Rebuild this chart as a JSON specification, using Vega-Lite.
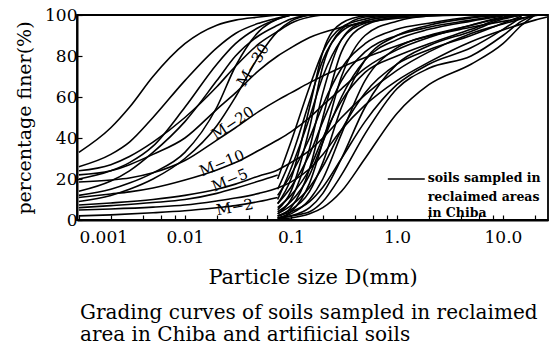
{
"$schema": "https://vega.github.io/schema/vega-lite/v6.json",
"width": 471, "height": 205,
"autosize": "none",
"padding": {"left": 77, "top": 15, "right": 3, "bottom": 133},
"background": "white",
"config": {"view": {"stroke": "black", "strokeWidth": 1.8}, "font": "DejaVu Serif"},
"title": {"text": ["Grading curves of soils sampled in reclaimed", "area in Chiba and artifiicial soils"], "orient": "bottom", "anchor": "start", "frame": "group", "align": "left", "font": "DejaVu Serif", "fontSize": 20, "fontWeight": "normal", "lineHeight": 22, "offset": 16, "dx": 3, "color": "black"},
"layer": [
{"data": {"values": [
{"s":"M30","d":0.001,"p":22},{"s":"M30","d":0.002,"p":24},{"s":"M30","d":0.003,"p":27},{"s":"M30","d":0.005,"p":32},{"s":"M30","d":0.01,"p":40},{"s":"M30","d":0.02,"p":54},{"s":"M30","d":0.03,"p":62},{"s":"M30","d":0.05,"p":73},{"s":"M30","d":0.075,"p":80},{"s":"M30","d":0.1,"p":84},{"s":"M30","d":0.15,"p":89},{"s":"M30","d":0.3,"p":94},{"s":"M30","d":0.7,"p":97.5},{"s":"M30","d":2,"p":99.5},{"s":"M30","d":3,"p":100},
{"s":"M20","d":0.001,"p":18.5},{"s":"M20","d":0.002,"p":19.5},{"s":"M20","d":0.003,"p":20.5},{"s":"M20","d":0.005,"p":23},{"s":"M20","d":0.01,"p":29},{"s":"M20","d":0.02,"p":39},{"s":"M20","d":0.03,"p":45},{"s":"M20","d":0.05,"p":53},{"s":"M20","d":0.075,"p":58.5},{"s":"M20","d":0.1,"p":62},{"s":"M20","d":0.15,"p":67},{"s":"M20","d":0.3,"p":74.5},{"s":"M20","d":0.7,"p":82},{"s":"M20","d":1.5,"p":88},{"s":"M20","d":5,"p":94},{"s":"M20","d":15,"p":98.5},{"s":"M20","d":22,"p":100},
{"s":"M10","d":0.001,"p":11},{"s":"M10","d":0.002,"p":12.7},{"s":"M10","d":0.003,"p":13.7},{"s":"M10","d":0.005,"p":15.6},{"s":"M10","d":0.01,"p":19.5},{"s":"M10","d":0.02,"p":24.4},{"s":"M10","d":0.03,"p":28},{"s":"M10","d":0.05,"p":34},{"s":"M10","d":0.075,"p":39},{"s":"M10","d":0.1,"p":43},{"s":"M10","d":0.15,"p":50},{"s":"M10","d":0.2,"p":56},{"s":"M10","d":0.3,"p":64},{"s":"M10","d":0.5,"p":74},{"s":"M10","d":1,"p":83},{"s":"M10","d":2,"p":89},{"s":"M10","d":5,"p":95},{"s":"M10","d":10,"p":98.5},{"s":"M10","d":15,"p":100},
{"s":"M5","d":0.001,"p":7.3},{"s":"M5","d":0.002,"p":8.3},{"s":"M5","d":0.005,"p":10},{"s":"M5","d":0.01,"p":12},{"s":"M5","d":0.02,"p":15},{"s":"M5","d":0.03,"p":17.5},{"s":"M5","d":0.05,"p":21.5},{"s":"M5","d":0.075,"p":24.4},{"s":"M5","d":0.1,"p":28},{"s":"M5","d":0.15,"p":34},{"s":"M5","d":0.2,"p":40},{"s":"M5","d":0.3,"p":50},{"s":"M5","d":0.5,"p":61},{"s":"M5","d":1,"p":73},{"s":"M5","d":2,"p":82},{"s":"M5","d":5,"p":91},{"s":"M5","d":10,"p":95.6},{"s":"M5","d":20,"p":100},
{"s":"M2","d":0.001,"p":4.9},{"s":"M2","d":0.002,"p":5.4},{"s":"M2","d":0.005,"p":6.3},{"s":"M2","d":0.01,"p":7.3},{"s":"M2","d":0.02,"p":9.3},{"s":"M2","d":0.03,"p":10.7},{"s":"M2","d":0.05,"p":13},{"s":"M2","d":0.075,"p":15.6},{"s":"M2","d":0.1,"p":18.5},{"s":"M2","d":0.15,"p":25},{"s":"M2","d":0.2,"p":32},{"s":"M2","d":0.3,"p":44},{"s":"M2","d":0.5,"p":56},{"s":"M2","d":1,"p":68},{"s":"M2","d":2,"p":77},{"s":"M2","d":5,"p":87},{"s":"M2","d":10,"p":92.7},{"s":"M2","d":20,"p":97.5},{"s":"M2","d":26,"p":99},
{"s":"a","d":0.001,"p":33},{"s":"a","d":0.002,"p":45},{"s":"a","d":0.003,"p":55},{"s":"a","d":0.005,"p":70},{"s":"a","d":0.01,"p":86},{"s":"a","d":0.02,"p":95},{"s":"a","d":0.03,"p":97.5},{"s":"a","d":0.05,"p":99},{"s":"a","d":0.075,"p":100},
{"s":"b","d":0.001,"p":26},{"s":"b","d":0.002,"p":32},{"s":"b","d":0.003,"p":38},{"s":"b","d":0.005,"p":50},{"s":"b","d":0.01,"p":68},{"s":"b","d":0.02,"p":84},{"s":"b","d":0.03,"p":91},{"s":"b","d":0.05,"p":96},{"s":"b","d":0.075,"p":98.5},{"s":"b","d":0.1,"p":100},
{"s":"c","d":0.001,"p":24},{"s":"c","d":0.002,"p":27},{"s":"c","d":0.003,"p":31},{"s":"c","d":0.005,"p":38},{"s":"c","d":0.01,"p":50},{"s":"c","d":0.02,"p":65},{"s":"c","d":0.03,"p":75},{"s":"c","d":0.05,"p":86},{"s":"c","d":0.075,"p":92},{"s":"c","d":0.1,"p":96},{"s":"c","d":0.15,"p":99},{"s":"c","d":0.2,"p":100},
{"s":"i","d":0.001,"p":12},{"s":"i","d":0.002,"p":15},{"s":"i","d":0.003,"p":18},{"s":"i","d":0.005,"p":23},{"s":"i","d":0.01,"p":33},{"s":"i","d":0.02,"p":55},{"s":"i","d":0.03,"p":75},{"s":"i","d":0.05,"p":92},{"s":"i","d":0.075,"p":98},{"s":"i","d":0.1,"p":100},
{"s":"j","d":0.001,"p":9},{"s":"j","d":0.002,"p":12},{"s":"j","d":0.003,"p":15},{"s":"j","d":0.005,"p":20},{"s":"j","d":0.01,"p":30},{"s":"j","d":0.02,"p":46},{"s":"j","d":0.03,"p":60},{"s":"j","d":0.05,"p":80},{"s":"j","d":0.075,"p":92},{"s":"j","d":0.1,"p":97},{"s":"j","d":0.15,"p":100},
{"s":"k","d":0.001,"p":20},{"s":"k","d":0.002,"p":24},{"s":"k","d":0.003,"p":28},{"s":"k","d":0.005,"p":36},{"s":"k","d":0.01,"p":55},{"s":"k","d":0.02,"p":76},{"s":"k","d":0.03,"p":86},{"s":"k","d":0.05,"p":94},{"s":"k","d":0.075,"p":98},{"s":"k","d":0.1,"p":100},
{"s":"l","d":0.001,"p":14},{"s":"l","d":0.002,"p":19},{"s":"l","d":0.003,"p":24},{"s":"l","d":0.005,"p":33},{"s":"l","d":0.01,"p":48},{"s":"l","d":0.02,"p":68},{"s":"l","d":0.03,"p":80},{"s":"l","d":0.05,"p":90},{"s":"l","d":0.075,"p":95},{"s":"l","d":0.1,"p":98},{"s":"l","d":0.15,"p":100},
{"s":"n","d":0.001,"p":2},{"s":"n","d":0.002,"p":2.5},{"s":"n","d":0.005,"p":3.5},{"s":"n","d":0.01,"p":4.5},{"s":"n","d":0.02,"p":6},{"s":"n","d":0.03,"p":7},{"s":"n","d":0.05,"p":9},{"s":"n","d":0.075,"p":11},
{"s":"o","d":0.001,"p":6},{"s":"o","d":0.002,"p":7},{"s":"o","d":0.005,"p":8.5},{"s":"o","d":0.01,"p":10},{"s":"o","d":0.02,"p":13},{"s":"o","d":0.03,"p":15.5},{"s":"o","d":0.05,"p":19},{"s":"o","d":0.075,"p":22},
{"s":"R1","d":0.075,"p":8},{"s":"R1","d":0.1,"p":20},{"s":"R1","d":0.15,"p":55},{"s":"R1","d":0.2,"p":82},{"s":"R1","d":0.3,"p":96},{"s":"R1","d":0.5,"p":99.5},{"s":"R1","d":1,"p":100},
{"s":"R2","d":0.075,"p":5},{"s":"R2","d":0.1,"p":14},{"s":"R2","d":0.15,"p":45},{"s":"R2","d":0.2,"p":75},{"s":"R2","d":0.3,"p":93},{"s":"R2","d":0.5,"p":99},{"s":"R2","d":1,"p":100},
{"s":"R3","d":0.075,"p":3},{"s":"R3","d":0.1,"p":10},{"s":"R3","d":0.15,"p":35},{"s":"R3","d":0.2,"p":62},{"s":"R3","d":0.3,"p":88},{"s":"R3","d":0.5,"p":97},{"s":"R3","d":1,"p":99.5},{"s":"R3","d":2,"p":100},
{"s":"R4","d":0.075,"p":2},{"s":"R4","d":0.1,"p":6},{"s":"R4","d":0.15,"p":25},{"s":"R4","d":0.2,"p":50},{"s":"R4","d":0.3,"p":82},{"s":"R4","d":0.5,"p":95},{"s":"R4","d":1,"p":99},{"s":"R4","d":2,"p":100},
{"s":"R5","d":0.075,"p":10},{"s":"R5","d":0.1,"p":25},{"s":"R5","d":0.15,"p":50},{"s":"R5","d":0.2,"p":70},{"s":"R5","d":0.3,"p":88},{"s":"R5","d":0.5,"p":96},{"s":"R5","d":1,"p":99},{"s":"R5","d":2,"p":100},
{"s":"R6","d":0.075,"p":15},{"s":"R6","d":0.1,"p":30},{"s":"R6","d":0.15,"p":58},{"s":"R6","d":0.2,"p":78},{"s":"R6","d":0.3,"p":92},{"s":"R6","d":0.5,"p":97},{"s":"R6","d":1,"p":99.5},{"s":"R6","d":1.5,"p":100},
{"s":"R7","d":0.075,"p":20},{"s":"R7","d":0.1,"p":38},{"s":"R7","d":0.15,"p":65},{"s":"R7","d":0.2,"p":82},{"s":"R7","d":0.3,"p":94},{"s":"R7","d":0.5,"p":98},{"s":"R7","d":1,"p":100},
{"s":"R8","d":0.075,"p":1},{"s":"R8","d":0.1,"p":4},{"s":"R8","d":0.15,"p":18},{"s":"R8","d":0.2,"p":38},{"s":"R8","d":0.3,"p":70},{"s":"R8","d":0.5,"p":90},{"s":"R8","d":1,"p":97},{"s":"R8","d":2,"p":99.5},{"s":"R8","d":5,"p":100},
{"s":"R9","d":0.075,"p":2},{"s":"R9","d":0.1,"p":5},{"s":"R9","d":0.15,"p":14},{"s":"R9","d":0.2,"p":28},{"s":"R9","d":0.3,"p":55},{"s":"R9","d":0.5,"p":78},{"s":"R9","d":1,"p":90},{"s":"R9","d":2,"p":95},{"s":"R9","d":5,"p":98.5},{"s":"R9","d":10,"p":100},
{"s":"R10","d":0.075,"p":4},{"s":"R10","d":0.1,"p":9},{"s":"R10","d":0.15,"p":22},{"s":"R10","d":0.2,"p":38},{"s":"R10","d":0.3,"p":60},{"s":"R10","d":0.5,"p":78},{"s":"R10","d":1,"p":88},{"s":"R10","d":2,"p":93},{"s":"R10","d":5,"p":97},{"s":"R10","d":10,"p":99.5},
{"s":"R11","d":0.075,"p":1},{"s":"R11","d":0.1,"p":3},{"s":"R11","d":0.15,"p":10},{"s":"R11","d":0.2,"p":20},{"s":"R11","d":0.3,"p":42},{"s":"R11","d":0.5,"p":68},{"s":"R11","d":1,"p":84},{"s":"R11","d":2,"p":90},{"s":"R11","d":5,"p":95},{"s":"R11","d":10,"p":99},{"s":"R11","d":15,"p":100},
{"s":"R12","d":0.075,"p":6},{"s":"R12","d":0.1,"p":12},{"s":"R12","d":0.15,"p":25},{"s":"R12","d":0.2,"p":40},{"s":"R12","d":0.3,"p":58},{"s":"R12","d":0.5,"p":72},{"s":"R12","d":1,"p":80},{"s":"R12","d":2,"p":86},{"s":"R12","d":5,"p":93},{"s":"R12","d":10,"p":98.5},{"s":"R12","d":15,"p":100},
{"s":"R13","d":0.075,"p":3},{"s":"R13","d":0.1,"p":7},{"s":"R13","d":0.15,"p":16},{"s":"R13","d":0.2,"p":26},{"s":"R13","d":0.3,"p":44},{"s":"R13","d":0.5,"p":62},{"s":"R13","d":1,"p":76},{"s":"R13","d":2,"p":83},{"s":"R13","d":5,"p":90},{"s":"R13","d":10,"p":96},{"s":"R13","d":15,"p":99.5},
{"s":"R14","d":0.075,"p":1},{"s":"R14","d":0.1,"p":2},{"s":"R14","d":0.15,"p":6},{"s":"R14","d":0.2,"p":13},{"s":"R14","d":0.3,"p":30},{"s":"R14","d":0.5,"p":55},{"s":"R14","d":1,"p":76},{"s":"R14","d":2,"p":85},{"s":"R14","d":5,"p":92},{"s":"R14","d":10,"p":98},{"s":"R14","d":15,"p":100},
{"s":"R15","d":0.075,"p":2},{"s":"R15","d":0.1,"p":4},{"s":"R15","d":0.15,"p":9},{"s":"R15","d":0.2,"p":16},{"s":"R15","d":0.3,"p":30},{"s":"R15","d":0.5,"p":48},{"s":"R15","d":1,"p":66},{"s":"R15","d":2,"p":76},{"s":"R15","d":5,"p":84},{"s":"R15","d":10,"p":93},{"s":"R15","d":15,"p":99},
{"s":"R16","d":0.075,"p":0.5},{"s":"R16","d":0.1,"p":1},{"s":"R16","d":0.15,"p":3},{"s":"R16","d":0.2,"p":6},{"s":"R16","d":0.3,"p":14},{"s":"R16","d":0.5,"p":30},{"s":"R16","d":1,"p":52},{"s":"R16","d":2,"p":66},{"s":"R16","d":5,"p":76},{"s":"R16","d":10,"p":86},{"s":"R16","d":15,"p":95},{"s":"R16","d":20,"p":100},
{"s":"R17","d":0.075,"p":1},{"s":"R17","d":0.1,"p":2},{"s":"R17","d":0.15,"p":4},{"s":"R17","d":0.2,"p":9},{"s":"R17","d":0.3,"p":22},{"s":"R17","d":0.5,"p":42},{"s":"R17","d":1,"p":64},{"s":"R17","d":2,"p":74},{"s":"R17","d":5,"p":80},{"s":"R17","d":10,"p":90},{"s":"R17","d":15,"p":97},{"s":"R17","d":20,"p":100},
{"s":"R18","d":0.075,"p":8},{"s":"R18","d":0.1,"p":16},{"s":"R18","d":0.15,"p":32},{"s":"R18","d":0.2,"p":48},{"s":"R18","d":0.3,"p":68},{"s":"R18","d":0.5,"p":82},{"s":"R18","d":1,"p":90},{"s":"R18","d":2,"p":94},{"s":"R18","d":5,"p":97.5},{"s":"R18","d":10,"p":100},
{"s":"R19","d":0.075,"p":12},{"s":"R19","d":0.1,"p":22},{"s":"R19","d":0.15,"p":40},{"s":"R19","d":0.2,"p":56},{"s":"R19","d":0.3,"p":74},{"s":"R19","d":0.5,"p":86},{"s":"R19","d":1,"p":93},{"s":"R19","d":2,"p":96},{"s":"R19","d":5,"p":99},{"s":"R19","d":10,"p":100}
]},
"mark": {"type": "line", "interpolate": "monotone", "color": "black", "strokeWidth": 1.6, "clip": true},
"encoding": {
"x": {"field": "d", "type": "quantitative", "scale": {"type": "log", "domain": [0.00096, 26.6], "nice": false},
 "axis": {"values": [0.001,0.002,0.004,0.006,0.008,0.01,0.02,0.04,0.06,0.08,0.1,0.2,0.4,0.6,0.8,1,2,4,6,8,10,20],
  "labelExpr": "datum.value==0.001?'0.001':datum.value==0.01?'0.01':datum.value==0.1?'0.1':datum.value==1?'1.0':datum.value==10?'10.0':''",
  "tickSize": -5, "tickColor": "black", "tickWidth": 1.2, "domainColor": "black", "domainWidth": 2,
  "labelFont": "DejaVu Serif", "labelFontSize": 17, "labelColor": "black", "labelPadding": 14,
  "labelAlign": {"condition": {"test": "datum.value < 0.0015", "value": "left"}, "value": "center"},
  "labelFlush": false, "labelOverlap": false, "grid": false,
  "title": "Particle size D(mm)", "titleFont": "DejaVu Serif", "titleFontSize": 21, "titleFontWeight": "normal", "titleColor": "black", "titlePadding": 21}},
"y": {"field": "p", "type": "quantitative", "scale": {"domain": [0, 100], "nice": false},
 "axis": {"values": [0,20,40,60,80,100], "tickSize": -5, "tickColor": "black", "tickWidth": 1.2, "domainColor": "black", "domainWidth": 2,
  "labelFont": "DejaVu Serif", "labelFontSize": 17, "labelColor": "black", "labelPadding": 5, "grid": false,
  "title": "percentage finer(%)", "titleFont": "DejaVu Serif", "titleFontSize": 19, "titleFontWeight": "normal", "titleColor": "black", "titlePadding": 10}},
"detail": {"field": "s"}
}},
{"data": {"values": [{"t": "M−30", "d": 0.0438, "p": 75.6}]},
 "mark": {"type": "text", "angle": -58, "font": "DejaVu Serif", "fontSize": 15, "color": "black"},
 "encoding": {"x": {"field": "d", "type": "quantitative"}, "y": {"field": "p", "type": "quantitative"}, "text": {"field": "t"}}},
{"data": {"values": [{"t": "M−20", "d": 0.0283, "p": 47.3}]},
 "mark": {"type": "text", "angle": -33, "font": "DejaVu Serif", "fontSize": 15, "color": "black"},
 "encoding": {"x": {"field": "d", "type": "quantitative"}, "y": {"field": "p", "type": "quantitative"}, "text": {"field": "t"}}},
{"data": {"values": [{"t": "M−10", "d": 0.0223, "p": 27.8}]},
 "mark": {"type": "text", "angle": -22, "font": "DejaVu Serif", "fontSize": 15, "color": "black"},
 "encoding": {"x": {"field": "d", "type": "quantitative"}, "y": {"field": "p", "type": "quantitative"}, "text": {"field": "t"}}},
{"data": {"values": [{"t": "M−5", "d": 0.0265, "p": 19.5}]},
 "mark": {"type": "text", "angle": -22, "font": "DejaVu Serif", "fontSize": 15, "color": "black"},
 "encoding": {"x": {"field": "d", "type": "quantitative"}, "y": {"field": "p", "type": "quantitative"}, "text": {"field": "t"}}},
{"data": {"values": [{"t": "M−2", "d": 0.0296, "p": 6.3}]},
 "mark": {"type": "text", "angle": -10, "font": "DejaVu Serif", "fontSize": 15, "color": "black"},
 "encoding": {"x": {"field": "d", "type": "quantitative"}, "y": {"field": "p", "type": "quantitative"}, "text": {"field": "t"}}},
{"data": {"values": [{"d": 0.82, "d2": 1.83, "p": 20}]},
 "mark": {"type": "rule", "color": "black", "strokeWidth": 1.3},
 "encoding": {"x": {"field": "d", "type": "quantitative"}, "x2": {"field": "d2"}, "y": {"field": "p", "type": "quantitative"}}},
{"data": {"values": [{"t": "soils sampled in", "d": 1.95, "p": 20.5}, {"t": "reclaimed areas", "d": 1.95, "p": 11.2}, {"t": "in Chiba", "d": 1.95, "p": 3.4}]},
 "mark": {"type": "text", "align": "left", "baseline": "middle", "font": "DejaVu Serif", "fontWeight": "bold", "fontSize": 12.5, "color": "black"},
 "encoding": {"x": {"field": "d", "type": "quantitative"}, "y": {"field": "p", "type": "quantitative"}, "text": {"field": "t"}}}
]
}
